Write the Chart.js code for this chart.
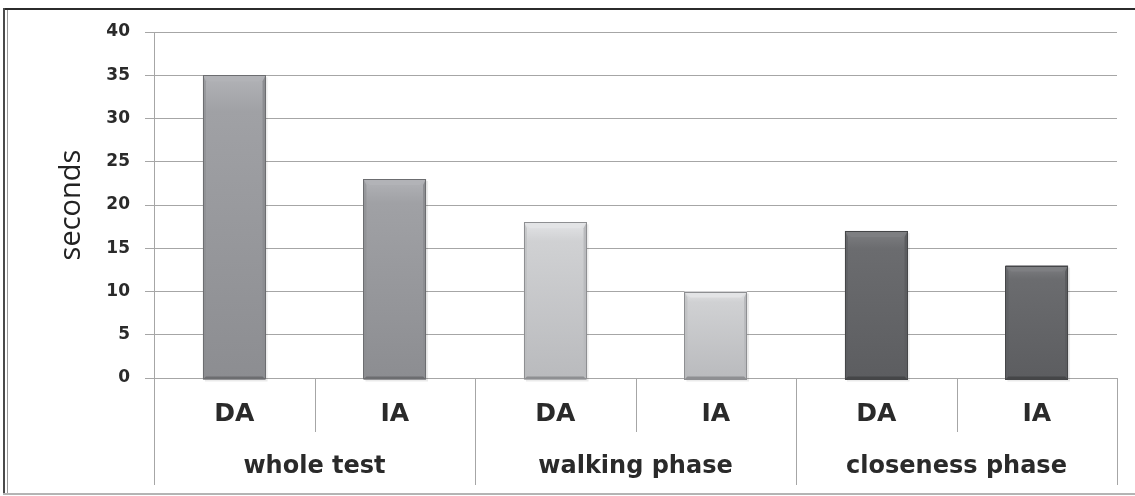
<!DOCTYPE html>
<html>
<head>
<meta charset="utf-8">
<script src="https://cdn.jsdelivr.net/npm/chart.js@4/dist/chart.umd.min.js"></script>
<style>
  body { margin: 0; background: #fff; }
  #wrap { position: relative; width: 1135px; height: 496px; }
  #wrap canvas { position: absolute; left: 0; top: 0; }
  .edge { position: absolute; }
</style>
</head>
<body>
<div id="wrap">
  <canvas id="myChart" width="1135" height="496"></canvas>
  <div class="edge" style="left:3px;top:8px;right:0;height:2px;background:#2b2b2b"></div>
  <div class="edge" style="left:3px;top:8px;width:2px;bottom:2px;background:#4a4a4a"></div>
  <div class="edge" style="left:7px;top:10px;width:1px;bottom:2px;background:#9a9a9a"></div>
  <div class="edge" style="left:3px;top:493px;right:0;height:2px;background:#b4b4b4"></div>
</div>
<script>
const subLabels = ['DA', 'IA', 'DA', 'IA', 'DA', 'IA'];
const groupLabels = ['whole test', 'walking phase', 'closeness phase'];
const seconds = [35, 23, 18, 10, 17, 13];
const yTicks = [0, 5, 10, 15, 20, 25, 30, 35, 40];

// body / top bevel / side / outline per bar
const barColors = ['#a0a1a5', '#a0a1a5', '#d0d1d3', '#d0d1d3', '#6b6c6f', '#6b6c6f'];
const barLight = ['#b2b3b7', '#b2b3b7', '#e3e4e6', '#e3e4e6', '#7e7f82', '#7e7f82'];
const barDark = ['#8c8d91', '#8c8d91', '#b9babd', '#b9babd', '#5c5d60', '#5c5d60'];
const barEdge = ['#6c6d70', '#6c6d70', '#8e8f92', '#8e8f92', '#454648', '#454648'];

const textColor = '#2a2a2a';
const gridColor = '#a6a6a6';

const bevelBars = {
    id: 'bevelBars',
    afterDatasetsDraw(chart) {
        const ctx = chart.ctx;
        const meta = chart.getDatasetMeta(0);
        meta.data.forEach((bar, i) => {
            const l = bar.x - bar.width / 2;
            const r = bar.x + bar.width / 2;
            const t = bar.y;
            const b = bar.base + 2;
            const bv = 6;
            ctx.save();
            // shadow
            ctx.fillStyle = 'rgba(0,0,0,0.08)';
            ctx.fillRect(l + 2, t + 2, r - l, b - t);
            // body gradient
            const g = ctx.createLinearGradient(0, t, 0, b);
            g.addColorStop(0, barLight[i]);
            g.addColorStop(0.12, barColors[i]);
            g.addColorStop(1, barDark[i]);
            ctx.fillStyle = g;
            ctx.fillRect(l, t, r - l, b - t);
            // top bevel
            ctx.fillStyle = barLight[i];
            ctx.beginPath();
            ctx.moveTo(l, t); ctx.lineTo(r, t); ctx.lineTo(r - bv, t + bv); ctx.lineTo(l + bv, t + bv);
            ctx.closePath(); ctx.fill();
            // left side
            ctx.fillStyle = barDark[i];
            ctx.globalAlpha = 0.6;
            ctx.beginPath();
            ctx.moveTo(l, t); ctx.lineTo(l + 3, t + bv); ctx.lineTo(l + 3, b - 3); ctx.lineTo(l, b);
            ctx.closePath(); ctx.fill();
            // right side
            ctx.globalAlpha = 1;
            ctx.beginPath();
            ctx.moveTo(r, t); ctx.lineTo(r - 3, t + bv); ctx.lineTo(r - 3, b - 3); ctx.lineTo(r, b);
            ctx.closePath(); ctx.fill();
            // bottom
            ctx.fillStyle = barEdge[i];
            ctx.beginPath();
            ctx.moveTo(l, b); ctx.lineTo(l + 3, b - 3); ctx.lineTo(r - 3, b - 3); ctx.lineTo(r, b);
            ctx.closePath(); ctx.fill();
            // outline
            ctx.strokeStyle = barEdge[i];
            ctx.lineWidth = 1;
            ctx.strokeRect(Math.round(l) + 0.5, Math.round(t) + 0.5, Math.round(r - l) - 1, Math.round(b - t) - 1);
            ctx.restore();
        });
    }
};

const groupAxis = {
    id: 'groupAxis',
    afterDraw(chart) {
        const ctx = chart.ctx;
        const x = chart.scales.x;
        const area = chart.chartArea;
        const step = x.width / subLabels.length;
        ctx.save();
        ctx.strokeStyle = gridColor;
        ctx.lineWidth = 1;
        // separators
        for (let i = 0; i <= subLabels.length; i++) {
            const px = Math.round(x.getPixelForValue(i) - step / 2) + 0.5;
            const end = (i % 2 === 0) ? 485 : 432;
            ctx.beginPath();
            ctx.moveTo(px, area.bottom);
            ctx.lineTo(px, end);
            ctx.stroke();
        }
        ctx.fillStyle = textColor;
        ctx.textAlign = 'center';
        ctx.textBaseline = 'middle';
        ctx.font = 'bold 25px "DejaVu Sans"';
        subLabels.forEach((lab, i) => {
            ctx.fillText(lab, x.getPixelForValue(i), 414);
        });
        ctx.font = 'bold 24px "DejaVu Sans"';
        groupLabels.forEach((lab, g) => {
            const cx = (x.getPixelForValue(g * 2) + x.getPixelForValue(g * 2 + 1)) / 2;
            ctx.fillText(lab, cx, 467);
        });
        ctx.restore();
    }
};

const ctx = document.getElementById('myChart').getContext('2d');

new Chart(ctx, {
    type: 'bar',
    data: {
        labels: subLabels,
        datasets: [{
            label: 'seconds',
            data: seconds,
            backgroundColor: 'rgba(0,0,0,0)',
            borderWidth: 0,
            barPercentage: 0.39,
            categoryPercentage: 1
        }]
    },
    options: {
        responsive: false,
        animation: false,
        layout: { padding: { left: 0, right: 18, top: 32, bottom: 0 } },
        plugins: {
            legend: { display: false },
            tooltip: { enabled: false }
        },
        scales: {
            x: {
                grid: { display: false },
                border: { display: false },
                ticks: { display: false },
                afterFit(scale) { scale.height = 118; }
            },
            y: {
                min: 0,
                max: 40,
                afterBuildTicks(scale) { scale.ticks = yTicks.map(v => ({ value: v })); },
                grid: { color: gridColor, tickLength: 9, drawTicks: true },
                border: { display: true, color: gridColor },
                ticks: {
                    padding: 15,
                    color: textColor,
                    font: { family: 'DejaVu Sans', weight: 'bold', size: 17 }
                },
                title: {
                    display: true,
                    text: 'seconds',
                    color: '#222222',
                    font: { family: 'Open Sans', size: 29 },
                    padding: { top: 54, bottom: 0 }
                },
                afterFit(scale) { scale.width = 154; }
            }
        }
    },
    plugins: [bevelBars, groupAxis]
});
</script>
</body>
</html>
